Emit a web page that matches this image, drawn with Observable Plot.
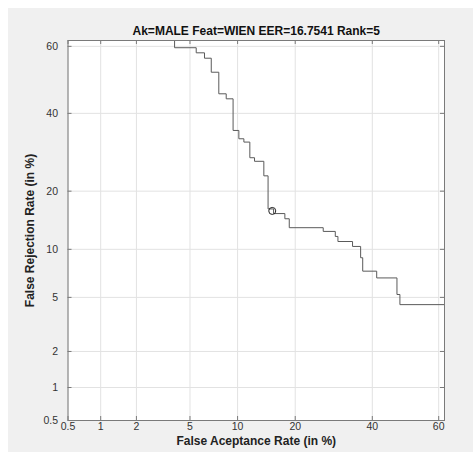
<!DOCTYPE html>
<html>
<head>
<meta charset="utf-8">
<script src="https://cdn.jsdelivr.net/npm/d3@7"></script>
<script src="https://cdn.jsdelivr.net/npm/@observablehq/plot@0.6"></script>
<style>
  html, body { margin: 0; padding: 0; background: #ffffff; width: 473px; height: 452px; overflow: hidden; }
  #bg { position: absolute; left: 8px; top: 8px; right: 0; bottom: 0; background: #f0f0f0; }
  #chart { position: absolute; left: 0; top: 0; }
</style>
</head>
<body>
<div id="bg"></div>
<div id="chart"></div>
<script>
// ---- data (percent) ----
const titleText = "Ak=MALE Feat=WIEN EER=16.7541 Rank=5";
const xLabel = "False Aceptance Rate (in %)";
const yLabel = "False Rejection Rate (in %)";
const tickLabels = [0.5, 1, 2, 5, 10, 20, 40, 60];
const axisLimits = [0.5, 61.7];
const farValues = [3.90, 3.90, 5.51, 6.25, 6.91, 7.71, 8.56, 9.41, 10.17, 10.87, 11.74, 12.46, 13.98, 14.71, 15.7, 17.86, 18.75, 26.5, 29.6, 30.3, 34.3, 36.6, 37.2, 41.3, 47.4, 48.3, 61.7];
const frrValues = [61.7, 59.6, 58.1, 56.5, 52.3, 45.8, 44.3, 35.1, 32.8, 31.9, 27.8, 26.9, 23.4, 16.45, 15.6, 14.68, 13.18, 12.59, 11.82, 11.08, 10.39, 8.93, 7.40, 6.71, 5.23, 4.46, 4.46];
const eerFar = [15.46];
const eerFrr = [16.08];

// ---- probit (inverse normal CDF, Acklam) ----
function probit(p) {
  const a = [-3.969683028665376e+01, 2.209460984245205e+02, -2.759285104469687e+02, 1.383577518672690e+02, -3.066479806614716e+01, 2.506628277459239e+00];
  const b = [-5.447609879822406e+01, 1.615858368580409e+02, -1.556989798598866e+02, 6.680131188771972e+01, -1.328068155288572e+01];
  const c = [-7.784894002430293e-03, -3.223964580411365e-01, -2.400758277161838e+00, -2.549732539343734e+00, 4.374664141464968e+00, 2.938163982698783e+00];
  const d = [7.784695709041462e-03, 3.224671290700398e-01, 2.445134137142996e+00, 3.754408661907416e+00];
  const pl = 0.02425, ph = 1 - pl;
  let q, r;
  if (p < pl) {
    q = Math.sqrt(-2 * Math.log(p));
    return (((((c[0]*q+c[1])*q+c[2])*q+c[3])*q+c[4])*q+c[5]) / ((((d[0]*q+d[1])*q+d[2])*q+d[3])*q+1);
  }
  if (p <= ph) {
    q = p - 0.5; r = q * q;
    return (((((a[0]*r+a[1])*r+a[2])*r+a[3])*r+a[4])*r+a[5])*q / (((((b[0]*r+b[1])*r+b[2])*r+b[3])*r+b[4])*r+1);
  }
  q = Math.sqrt(-2 * Math.log(1 - p));
  return -(((((c[0]*q+c[1])*q+c[2])*q+c[3])*q+c[4])*q+c[5]) / ((((d[0]*q+d[1])*q+d[2])*q+d[3])*q+1);
}
const P = v => probit(v / 100);

const curve = farValues.map((f, i) => ({far: f, frr: frrValues[i]}));
const eer = eerFar.map((f, i) => ({far: f, frr: eerFrr[i]}));
const tp = tickLabels.map(P);
const fmt = d => String(tickLabels[tp.indexOf(d)]);

const W = 473, H = 452, mL = 67.5, mR = 29, mT = 40, mB = 32;
const innerW = W - mL - mR, innerH = H - mT - mB;
const tickLen = 4;
const axisColor = "#7a7a7a";
const font = "Helvetica, 'Liberation Sans', Arial, sans-serif";

const chart = Plot.plot({
  width: W, height: H,
  marginLeft: mL, marginRight: mR, marginTop: mT, marginBottom: mB,
  style: {background: "transparent", fontFamily: font, color: "#333", overflow: "visible"},
  x: {type: "linear", domain: axisLimits.map(P), axis: null},
  y: {type: "linear", domain: axisLimits.map(P), axis: null},
  marks: [
    Plot.frame({fill: "white", stroke: null}),
    Plot.gridX(tp, {stroke: "#e2e2e2", strokeOpacity: 1}),
    Plot.gridY(tp, {stroke: "#e2e2e2", strokeOpacity: 1}),
    Plot.line(curve, {x: d => P(d.far), y: d => P(d.frr), curve: "step-after", stroke: "#5a5a5a", strokeWidth: 1}),
    Plot.dot(eer, {x: d => P(d.far), y: d => P(d.frr), r: 3.5, stroke: "#222", strokeWidth: 1, fill: "none"}),
    Plot.frame({stroke: axisColor, strokeWidth: 1}),
    Plot.tickX(tp, {x: d => d, insetTop: innerH - tickLen, stroke: axisColor}),
    Plot.tickX(tp, {x: d => d, insetBottom: innerH - tickLen, stroke: axisColor}),
    Plot.tickY(tp, {y: d => d, insetRight: innerW - tickLen, stroke: axisColor}),
    Plot.tickY(tp, {y: d => d, insetLeft: innerW - tickLen, stroke: axisColor}),
    Plot.axisX(tp, {tickSize: 0, tickPadding: 2, tickFormat: fmt, fontSize: 10.5, fill: "#333"}),
    Plot.axisY(tp, {tickSize: 0, tickPadding: 10, tickFormat: fmt, fontSize: 10.5, fill: "#333"}),
    Plot.text([titleText], {frameAnchor: "top", lineAnchor: "middle", textAnchor: "middle", dy: -9, fontSize: 12, fontWeight: "bold", fill: "#111"}),
    Plot.text([xLabel], {frameAnchor: "bottom", lineAnchor: "middle", textAnchor: "middle", dy: 21, fontSize: 12, fontWeight: "bold", fill: "#222"}),
    Plot.text([yLabel], {frameAnchor: "left", lineAnchor: "middle", textAnchor: "middle", dx: -38, rotate: -90, fontSize: 12, fontWeight: "bold", fill: "#222"})
  ]
});
document.getElementById("chart").appendChild(chart);
</script>
</body>
</html>
